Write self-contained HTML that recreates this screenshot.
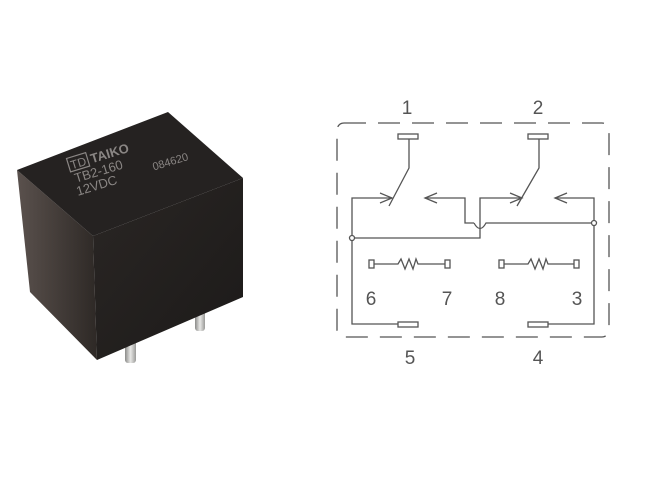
<!DOCTYPE html>
<html><head><style>
html,body{margin:0;padding:0;background:#fff;}
svg{display:block;}
</style></head><body>
<svg width="650" height="483" viewBox="0 0 650 483" xmlns="http://www.w3.org/2000/svg">
<defs>
<linearGradient id="lf" x1="0" x2="1" y1="0" y2="0"><stop offset="0" stop-color="#5a514d"/><stop offset="1" stop-color="#2e2926"/></linearGradient>
<linearGradient id="ff" x1="0" x2="1" y1="0" y2="1"><stop offset="0" stop-color="#2a2624"/><stop offset="1" stop-color="#1c1a19"/></linearGradient>
<linearGradient id="pin" x1="0" x2="1"><stop offset="0" stop-color="#8a8a88"/><stop offset="0.5" stop-color="#e8e8e6"/><stop offset="1" stop-color="#9a9a98"/></linearGradient>
</defs>
<!-- pins -->
<rect x="125" y="325" width="11" height="38" rx="3" fill="url(#pin)"/>
<rect x="195" y="295" width="10" height="36" rx="3" fill="url(#pin)"/>
<!-- relay -->
<polygon points="17,170 93,236 97,360 30,292" fill="url(#lf)"/>
<polygon points="93,236 243,178 243,297 97,360" fill="url(#ff)"/>
<polygon points="17,170 168,112 243,178 93,236" fill="#252221"/>
<g font-family="Liberation Sans, sans-serif" fill="#8a8684" transform="translate(70,170) rotate(-17)">
<rect x="0" y="-12" width="20" height="14" fill="none" stroke="#8a8684" stroke-width="1.2"/>
<text x="2" y="0" font-size="12">TD</text>
<text x="23" y="0" font-size="13" font-weight="bold">TAIKO</text>
<text x="2" y="14" font-size="13">TB2-160</text>
<text x="0" y="27" font-size="13">12VDC</text>
<text x="80" y="25" font-size="11">084620</text>
</g>
<!-- schematic -->
<g fill="none" stroke="#555" stroke-width="1.3">
<rect x="337" y="123" width="272" height="214" rx="7" stroke-dasharray="22,12"/>
<rect x="398" y="134" width="20" height="5" fill="#fff"/>
<rect x="528" y="134" width="20" height="5" fill="#fff"/>
<rect x="398" y="322" width="20" height="5" fill="#fff"/>
<rect x="528" y="322" width="20" height="5" fill="#fff"/>
<polyline points="409,139 409,168 389,206"/>
<polyline points="539,139 539,168 517,206"/>
<polyline points="392,198 352,198 352,324 398,324"/>
<polyline points="425,198 465,198 465,223 474,223"/>
<path d="M474,223 Q480,234 486,223 L594,223"/>
<polyline points="352,238 480,238 480,198 520,198"/>
<polyline points="555,198 594,198 594,324 548,324"/>
<path d="M380,193 L392,198 L380,203 M437,193 L425,198 L437,203 M510,193 L522,198 L510,203 M567,193 L555,198 L567,203"/>
<circle cx="352" cy="238" r="2.5" fill="#fff"/>
<circle cx="594" cy="223" r="2.5" fill="#fff"/>
<rect x="369" y="260" width="5" height="8"/>
<rect x="445" y="260" width="5" height="8"/>
<rect x="499" y="260" width="5" height="8"/>
<rect x="574" y="260" width="5" height="8"/>
<polyline points="374,264 398,264 401,259 405,269 409,259 413,269 416,259 418,264 445,264"/>
<polyline points="504,264 528,264 531,259 535,269 539,259 543,269 546,259 548,264 574,264"/>
</g>
<g font-family="Liberation Sans, sans-serif" font-size="19" fill="#555" text-anchor="middle">
<text x="407" y="114">1</text>
<text x="538" y="114">2</text>
<text x="410" y="364">5</text>
<text x="538" y="364">4</text>
<text x="371" y="305">6</text>
<text x="447" y="305">7</text>
<text x="500" y="305">8</text>
<text x="577" y="305">3</text>
</g>
</svg>
</body></html>
